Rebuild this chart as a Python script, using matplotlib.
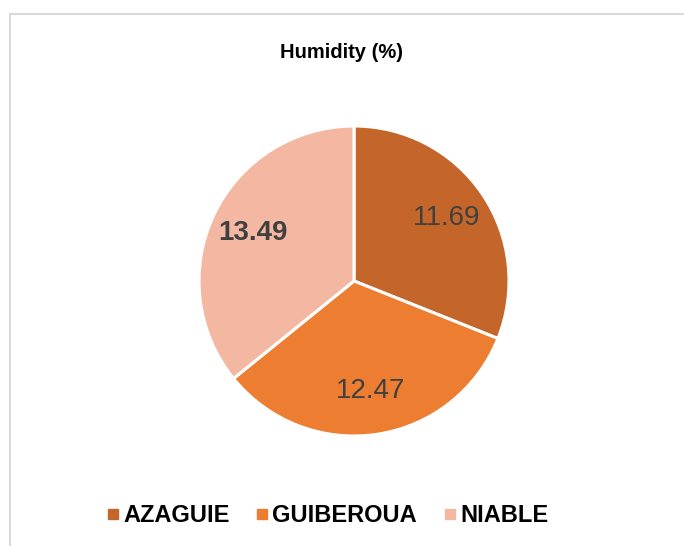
import matplotlib
matplotlib.use("Agg")
import matplotlib.pyplot as plt
from matplotlib.patches import Rectangle
from matplotlib.lines import Line2D

# data
sites = ["AZAGUIE", "GUIBEROUA", "NIABLE"]
humidity = [11.69, 12.47, 13.49]
colors = ["#C4662A", "#ED7D31", "#F4B8A2"]
label_weights = ["normal", "normal", "bold"]

plt.rcParams["font.family"] = ["Liberation Sans", "DejaVu Sans"]

fig = plt.figure(figsize=(6.84, 5.46), dpi=100)

# light grey chart border (runs off the right and bottom edges)
fig.patches.append(Rectangle((10 / 684, -0.05), 1.1, 1 - 14 / 546 + 0.05,
                             transform=fig.transFigure, fill=False,
                             edgecolor="#D9D9D9", linewidth=1.5))

cx, cy, r = 354, 281, 155
ax = fig.add_axes([(cx - r) / 684, (546 - cy - r) / 546, 2 * r / 684, 2 * r / 546])

wedges, texts = ax.pie(humidity, colors=colors, startangle=90, counterclock=False,
                       radius=1, labels=[f"{v:.2f}" for v in humidity],
                       labeldistance=0.72,
                       wedgeprops=dict(edgecolor="white", linewidth=2.2))
for t, w in zip(texts, label_weights):
    t.set_fontsize(20)
    t.set_color("#404040")
    t.set_fontweight(w)
    t.set_ha("center")
    t.set_va("center")
ax.set_xlim(-1.0, 1.0)
ax.set_ylim(-1.0, 1.0)
ax.set_aspect("equal")

fig.text(0.5, 1 - 52 / 546, "Humidity (%)", ha="center", va="center",
         fontsize=14.5, fontweight="bold")

handles = [Line2D([], [], marker="s", linestyle="none", markersize=7,
                  markerfacecolor=c, markeredgecolor=c) for c in colors]
fig.legend(handles, sites, loc="center", bbox_to_anchor=(327 / 684, 1 - 516 / 546),
           ncol=3, frameon=False, prop=dict(size=17, weight="bold"),
           handlelength=0.6, handletextpad=0.12, columnspacing=1.1)

fig.savefig("out.png", dpi=100)
